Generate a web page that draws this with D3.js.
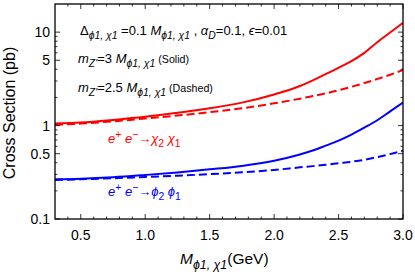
<!DOCTYPE html>
<html>
<head>
<meta charset="utf-8">
<script src="https://cdn.jsdelivr.net/npm/d3@7"></script>
<style>
  body { margin: 0; background: #fff; }
  svg { display: block; font-family: "Liberation Sans", Arial, sans-serif; }
</style>
</head>
<body>
<svg id="chart" width="415" height="277"></svg>
<script>
// 質量 (GeV)
const massX = [0.3, 0.5, 0.75, 1.0, 1.25, 1.5, 1.75, 2.0, 2.2, 2.3, 2.4, 2.5, 2.6, 2.7, 2.8, 2.9, 3.0];
// e+e- -> chi2 chi1
const redSolid  = [1.05, 1.08, 1.15, 1.24, 1.37, 1.53, 1.76, 2.15, 2.65, 3.05, 3.55, 4.15, 4.9, 6.0, 7.8, 9.9, 12.6];
const redDashed = [1.02, 1.05, 1.11, 1.19, 1.28, 1.39, 1.53, 1.73, 1.94, 2.07, 2.21, 2.39, 2.6, 2.85, 3.15, 3.5, 3.93];
// e+e- -> phi2 phi1
const blueSolid  = [0.266, 0.270, 0.280, 0.296, 0.315, 0.340, 0.370, 0.42, 0.49, 0.54, 0.61, 0.69, 0.80, 0.95, 1.14, 1.42, 1.76];
const blueDashed = [0.262, 0.266, 0.273, 0.282, 0.291, 0.302, 0.316, 0.335, 0.357, 0.368, 0.38, 0.395, 0.41, 0.43, 0.46, 0.495, 0.538];

const xTicks = [0.5, 1.0, 1.5, 2.0, 2.5, 3.0];
const yTicks = [0.1, 0.5, 1, 5, 10];
const yTickLabels = ["0.1", "0.5", "1", "5", "10"];

const svg = d3.select("#chart");
const plotLeft = 55, plotRight = 403, plotTop = 4, plotBottom = 219;

const x = d3.scaleLinear().domain([0.3, 3.0]).range([plotLeft, plotRight]);
const y = d3.scaleLog().domain([0.1, 20]).range([plotBottom, plotTop]);

/** 上付き・下付きを含むテキストを描く
 *
 * @param {number} px 開始位置(x)
 * @param {number} py ベースライン(y)
 * @param {Array} parts [文字列, 種類] の配列 (種類: n, i, s, si, p, t)
 * @param {number} size フォントサイズ
 * @param {string} color 色
 */
function richText(px, py, parts, size, color) {
    const t = svg.append("text")
        .attr("x", px)
        .attr("y", py)
        .attr("fill", color)
        .attr("font-size", size);
    let cur = 0;
    for (const [str, kind] of parts) {
        let target = 0;
        if (kind.includes("s")) target = size * 0.3;
        if (kind.includes("p")) target = -size * 0.4;
        const sp = t.append("tspan")
            .attr("dy", target - cur)
            .text(str);
        cur = target;
        if (kind.includes("s") || kind.includes("p")) sp.attr("font-size", size * 0.8);
        if (kind.includes("t")) sp.attr("font-size", size * 0.82);
        if (kind.includes("i")) sp.attr("font-style", "italic");
    }
    return t;
}

// 曲線
const line = d3.line()
    .x((d, i) => x(massX[i]))
    .y(d => y(d))
    .curve(d3.curveMonotoneX);

const series = [
    { data: redSolid, color: "#ff0000", dash: null },
    { data: redDashed, color: "#ff0000", dash: "8,4" },
    { data: blueSolid, color: "#0000ff", dash: null },
    { data: blueDashed, color: "#0000ff", dash: "8,4" }
];

svg.append("clipPath").attr("id", "clip")
    .append("rect")
    .attr("x", plotLeft).attr("y", plotTop)
    .attr("width", plotRight - plotLeft).attr("height", plotBottom - plotTop);

for (const s of series) {
    svg.append("path")
        .datum(s.data)
        .attr("d", line)
        .attr("fill", "none")
        .attr("stroke", s.color)
        .attr("stroke-width", 2)
        .attr("stroke-dasharray", s.dash)
        .attr("clip-path", "url(#clip)");
}

// 目盛り (内向き)
const xMinor = d3.range(4, 31).map(v => v / 10).filter(v => !xTicks.some(t => Math.abs(t - v) < 1e-6));
const yMinor = [];
[0.1, 1, 10].forEach(dec => {
    for (let k = 2; k <= 9; k++) {
        const v = dec * k;
        if (v < 20 && !yTicks.some(t => Math.abs(t - v) < 1e-9)) yMinor.push(v);
    }
});

const ticks = svg.append("g").attr("stroke", "#000").attr("stroke-width", 0.8);
function tickX(v, len) {
    ticks.append("line").attr("x1", x(v)).attr("x2", x(v)).attr("y1", plotBottom).attr("y2", plotBottom - len);
    ticks.append("line").attr("x1", x(v)).attr("x2", x(v)).attr("y1", plotTop).attr("y2", plotTop + len);
}
function tickY(v, len) {
    ticks.append("line").attr("y1", y(v)).attr("y2", y(v)).attr("x1", plotLeft).attr("x2", plotLeft + len);
    ticks.append("line").attr("y1", y(v)).attr("y2", y(v)).attr("x1", plotRight).attr("x2", plotRight - len);
}
xTicks.forEach(v => tickX(v, 5));
xMinor.forEach(v => tickX(v, 2.5));
yTicks.forEach(v => tickY(v, 5));
yMinor.forEach(v => tickY(v, 2.5));

// 枠
svg.append("rect")
    .attr("x", plotLeft).attr("y", plotTop)
    .attr("width", plotRight - plotLeft).attr("height", plotBottom - plotTop)
    .attr("fill", "none")
    .attr("stroke", "#000")
    .attr("stroke-width", 1.3);

// 目盛りラベル
svg.append("g").selectAll("text")
    .data(xTicks)
    .join("text")
    .attr("x", d => x(d))
    .attr("y", 240)
    .attr("text-anchor", "middle")
    .attr("font-size", 14)
    .text(d => d3.format(".1f")(d));

svg.append("g").selectAll("text")
    .data(yTicks)
    .join("text")
    .attr("x", plotLeft - 5)
    .attr("y", d => y(d) + 5)
    .attr("text-anchor", "end")
    .attr("font-size", 14)
    .text((d, i) => yTickLabels[i]);

// 軸タイトル
svg.append("text")
    .attr("transform", "translate(15,113) rotate(-90)")
    .attr("text-anchor", "middle")
    .attr("font-size", 16)
    .text("Cross Section (pb)");

richText(180, 264, [["M", "i"], ["\u03D51, \u03C71", "si"], ["(GeV)", "n"]], 15.5, "#000");

// 注釈
richText(80, 35, [["\u0394", "n"], ["\u03D51, \u03C71", "si"], [" =0.1 ", "n"], ["M", "i"], ["\u03D51, \u03C71", "si"],
    [" , ", "n"], ["\u03B1", "i"], ["D", "si"], ["=0.1, ", "n"], ["\u03F5", "i"], ["=0.01", "n"]], 13, "#000");
richText(78, 63, [["m", "i"], ["Z'", "si"], ["=3 ", "n"], ["M", "i"], ["\u03D51, \u03C71", "si"], [" (Solid)", "t"]], 13, "#000");
richText(78, 92, [["m", "i"], ["Z'", "si"], ["=2.5 ", "n"], ["M", "i"], ["\u03D51, \u03C71", "si"], [" (Dashed)", "t"]], 13, "#000");

richText(108, 143, [["e", "i"], ["+", "p"], [" e", "i"], ["\u2212", "p"], ["\u2192", "n"], ["\u03C7", "i"], ["2", "s"], [" \u03C7", "i"], ["1", "s"]], 13, "#ff0000");
richText(108, 196, [["e", "i"], ["+", "p"], [" e", "i"], ["\u2212", "p"], ["\u2192", "n"], ["\u03D5", "i"], ["2", "s"], [" \u03D5", "i"], ["1", "s"]], 13, "#0000ff");
</script>
</body>
</html>
